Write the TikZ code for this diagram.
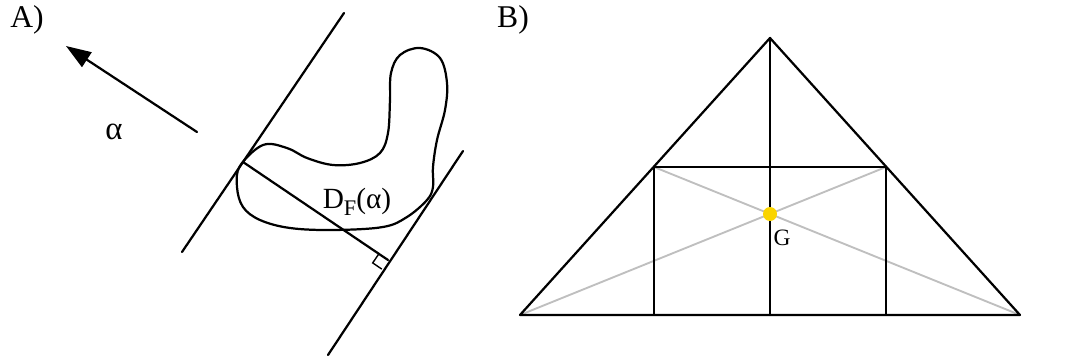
\documentclass[tikz,border=0pt]{standalone}
\usepackage{fontspec}
\setmainfont{Liberation Serif}
\usetikzlibrary{arrows.meta}

\definecolor{dotyellow}{RGB}{250,212,0}

\begin{document}
\begin{tikzpicture}[
  x=0.03cm, y=-0.03cm,
  panel/.style={font=\fontsize{27}{29}\selectfont},
  lbl/.style={font=\fontsize{25}{27}\selectfont, inner sep=0pt},
  glbl/.style={font=\fontsize{20}{22}\selectfont, inner sep=0pt},
  stroke/.style={draw=black, line width=1.9pt, line cap=round, line join=round},
  thinstroke/.style={draw=black, line width=1.2pt},
  diag/.style={draw=black!25, line width=1.6pt},
  dirarrow/.style={stroke, -{Triangle[length=0.75cm, width=0.52cm]}},
  gdot/.style={circle, fill=dotyellow, minimum size=0.42cm, inner sep=0pt},
]
\useasboundingbox (0,0) rectangle (1078,361);

% A) direction, support lines and the shape
\node[panel] (A) at (27,20) {A)};
\coordinate (tail) at (197,132);
\coordinate (tip) at (66,46);
\draw[dirarrow] (tail) -- (tip);
\node[lbl] (alpha) at (114,132) {\fontsize{28}{30}\selectfont α};

\coordinate (P) at (243,162);
\coordinate (Q) at (388,260);
\coordinate (L1) at (344,13);
\coordinate (L2) at (182,252);
\coordinate (R1) at (463,151);
\coordinate (R2) at (328,355);
\draw[stroke] (L1) -- (L2);
\draw[stroke] (R1) -- (R2);
\draw[stroke] (P) -- (Q);

% right angle mark
\coordinate (sq1) at (378.9,253.8);
\coordinate (sq2) at (372.7,262.9);
\coordinate (sq3) at (381.8,269.1);
\draw[thinstroke] (sq1) -- (sq2) -- (sq3);

\draw[stroke] plot[smooth cycle, tension=0.6] coordinates {
  (240,166) (263,145) (287,148) (307,158) (333,165) (360,163) (380,153)
  (388,133) (390,100) (391,73) (400,55) (420,48) (440,58) (447,83)
  (445,110) (437,140) (433,167) (433,187) (427,200) (407,217) (383,227)
  (333,230) (290,228) (260,220) (243,207) (237,187)};
\node[lbl] (DF) at (357,202) {D\raisebox{-0.22em}{\fontsize{19}{21}\selectfont F}(α)};

% B) triangle with inscribed rectangle
\node[panel] (B) at (513,20) {B)};
\coordinate (top) at (770,38);
\coordinate (bl) at (520,315);
\coordinate (br) at (1020,315);
\coordinate (bm) at (770,315);
\coordinate (rtl) at (654,167);
\coordinate (rtr) at (886,167);
\coordinate (rbl) at (654,315);
\coordinate (rbr) at (886,315);

\draw[diag] (rtl) -- (br);
\draw[diag] (rtr) -- (bl);
\draw[stroke] (bl) -- (top) -- (br) -- cycle;
\draw[stroke] (rtl) rectangle (rbr);
\draw[stroke] (top) -- (bm);

\node[gdot] (G) at (770,214) {};
\node[glbl] (Glbl) at (782,238) {G};

\end{tikzpicture}
\end{document}
